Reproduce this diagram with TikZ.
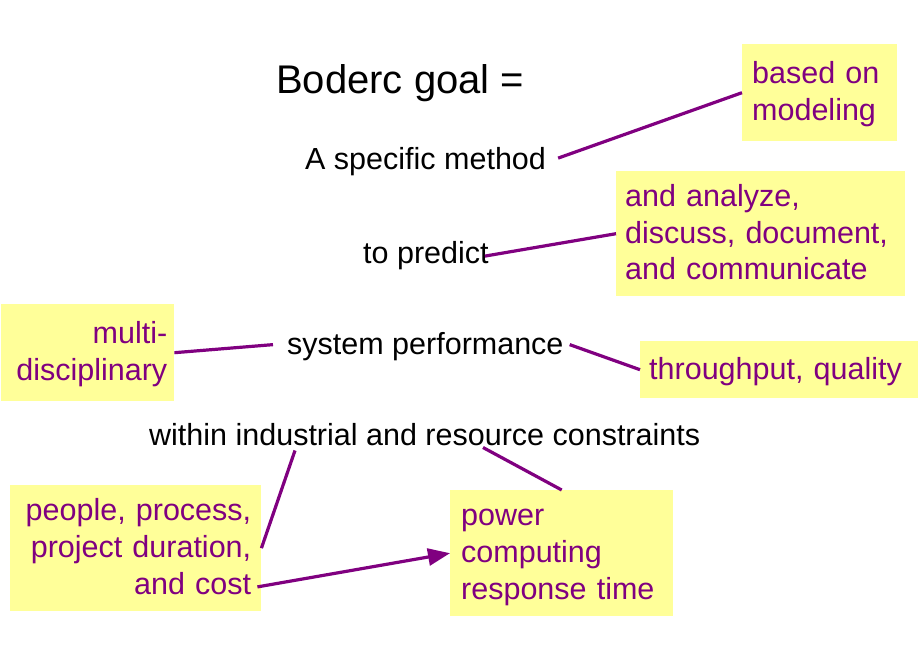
\documentclass[tikz,border=0pt]{standalone}
\usepackage{fontspec}
\setmainfont{Liberation Sans}
\usetikzlibrary{arrows.meta,positioning,calc}
\definecolor{notefill}{HTML}{FFFF99}
\definecolor{plum}{HTML}{800080}
\newcommand{\bodyfont}{\fontsize{30.5}{36.8}\selectfont}
\newcommand{\titlefont}{\fontsize{40}{48}\selectfont}
\newcommand{\notetop}{\rule{0pt}{28pt}}
\newcommand{\notebottom}{\rule[-9pt]{0pt}{9pt}}
\tikzset{phrase/.style={anchor=base west,inner sep=0pt,font=\bodyfont},
  note/.style={anchor=north west,fill=notefill,text=plum,inner ysep=0pt,
    font=\bodyfont,execute at begin node=\notetop,execute at end node=\notebottom},
  link/.style={draw=plum,line width=3.2pt},
  arrow/.style={link,-{Triangle[length=22pt,width=17pt]}}}

\begin{document}
\begin{tikzpicture}[x=1pt,y=-1pt]
\useasboundingbox (0,0) rectangle (920,660);
% main statement
\node[phrase,font=\titlefont] (title) at (276,93.3) {Boderc goal =};
\node[phrase] (method) at (305,170) {A specific method};
\node[phrase] (predict) at (363,263) {to predict};
\node[phrase] (perf) at (287,354.5) {system performance};
\node[phrase] (within) at (149,445) {within industrial and resource constraints};
% annotations
\node[note,inner xsep=10pt,text width=135pt,minimum height=97pt,align=left] (model) at (742,44) {based on\\modeling};
\node[note,inner xsep=9pt,text width=271pt,minimum height=125pt,align=left] (analyze) at (616,171) {and analyze,\\discuss, document,\\and communicate};
\node[note,inner xsep=7pt,text width=159pt,minimum height=97pt,align=right] (multi) at (1,304) {multi-\\disciplinary};
\node[note,inner xsep=9pt,text width=260pt,minimum height=57pt,align=left] (thru) at (640,341) {throughput, quality};
\node[note,inner xsep=10pt,text width=231pt,minimum height=126pt,align=right] (people) at (10,485) {people, process,\\project duration,\\and cost};
\node[note,inner xsep=11pt,text width=201pt,minimum height=126pt,align=left] (power) at (450,490) {power\\computing\\response time};
% connectors
\draw[link] ([xshift=12pt,yshift=4pt]method.east) -- (model.west);
\draw[link] ([xshift=-4pt,yshift=-1pt]predict.east) -- (analyze.west);
\draw[link] (multi.east) -- ([xshift=-14pt,yshift=2pt]perf.west);
\draw[link] ([xshift=6pt,yshift=2pt]perf.east) -- (thru.west);
\draw[link] ([xshift=146pt,yshift=-5pt]within.south west) -- (people.east);
\draw[link] ([xshift=334pt,yshift=-2pt]within.south west) -- (power.north);
\draw[arrow] ([xshift=-4pt,yshift=-38.7pt]people.east) -- (power.west);
\end{tikzpicture}
\end{document}
